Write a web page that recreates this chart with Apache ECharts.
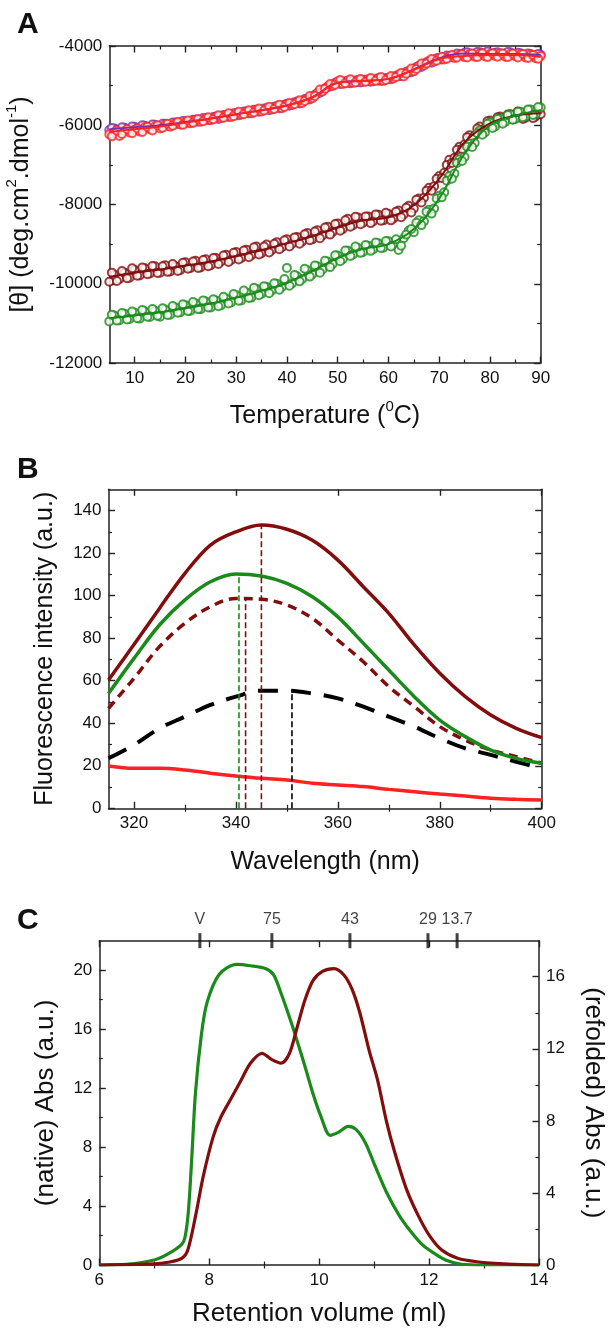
<!DOCTYPE html>
<html><head><meta charset="utf-8">
<script src="https://cdn.jsdelivr.net/npm/echarts@6/dist/echarts.min.js"></script>
<style>html,body{margin:0;padding:0;background:#fff}#c{width:613px;height:1333px}</style>
</head><body><div id="c"></div>
<script>
// ---------- Panel A : thermal melts (points read at whole and half degrees) ----------
const tempC = [5,6,7,8,9,10,11,12,13,14,
  15,16,17,18,19,20,21,22,23,24,
  25,26,27,28,29,30,31,32,33,34,
  35,36,37,38,39,40,41,42,43,44,
  45,46,47,48,49,50,51,52,53,54,
  55,56,57,58,59,60,61,62,63,64,
  65,66,67,68,69,70,71,72,73,74,
  75,76,77,78,79,80,81,82,83,84,
  85,86,87,88,89,90];
const tempHalf = [5.5,6.5,7.5,8.5,9.5,10.5,11.5,12.5,13.5,14.5,
  15.5,16.5,17.5,18.5,19.5,20.5,21.5,22.5,23.5,24.5,
  25.5,26.5,27.5,28.5,29.5,30.5,31.5,32.5,33.5,34.5,
  35.5,36.5,37.5,38.5,39.5,40.5,41.5,42.5,43.5,44.5,
  45.5,46.5,47.5,48.5,49.5,50.5,51.5,52.5,53.5,54.5,
  55.5,56.5,57.5,58.5,59.5,60.5,61.5,62.5,63.5,64.5,
  65.5,66.5,67.5,68.5,69.5,70.5,71.5,72.5,73.5,74.5,
  75.5,76.5,77.5,78.5,79.5,80.5,81.5,82.5,83.5,84.5,
  85.5,86.5,87.5,88.5,89.5];
const cdPurple = [-6120,-6080,-6130,-6060,-6090,-6040,-6070,-6010,-6050,-5990,
  -6010,-5960,-5990,-5930,-5950,-5900,-5920,-5860,-5880,-5830,
  -5840,-5780,-5800,-5740,-5760,-5700,-5710,-5650,-5670,-5610,
  -5620,-5570,-5580,-5520,-5530,-5460,-5460,-5400,-5400,-5330,
  -5290,-5200,-5120,-5040,-4980,-4930,-4920,-4930,-4900,-4910,
  -4880,-4890,-4860,-4870,-4840,-4830,-4790,-4760,-4710,-4650,
  -4590,-4520,-4450,-4400,-4350,-4310,-4280,-4260,-4240,-4200,
  -4170,-4190,-4200,-4160,-4180,-4210,-4170,-4200,-4190,-4160,
  -4200,-4180,-4220,-4200,-4230,-4220];
const cdPurpleHalf = [-6070,-6110,-6050,-6100,-6030,-6080,-6000,-6060,-5980,-6030,
  -5960,-6010,-5930,-5970,-5890,-5940,-5860,-5910,-5820,-5870,
  -5790,-5840,-5740,-5790,-5700,-5750,-5650,-5700,-5610,-5660,
  -5580,-5620,-5530,-5570,-5480,-5510,-5420,-5450,-5340,-5350,
  -5230,-5180,-5070,-5020,-4930,-4960,-4890,-4940,-4870,-4920,
  -4850,-4900,-4830,-4880,-4810,-4840,-4750,-4760,-4650,-4660,
  -4530,-4530,-4410,-4420,-4310,-4340,-4240,-4280,-4190,-4240,
  -4160,-4230,-4150,-4220,-4140,-4220,-4160,-4230,-4150,-4220,
  -4170,-4240,-4190,-4250,-4200];
const cdRed = [-6230,-6190,-6270,-6150,-6180,-6110,-6160,-6050,-6100,-6030,
  -6080,-5990,-6040,-5950,-5980,-5920,-5950,-5860,-5910,-5830,
  -5870,-5790,-5820,-5750,-5790,-5700,-5730,-5660,-5700,-5610,
  -5650,-5580,-5600,-5520,-5570,-5470,-5490,-5410,-5440,-5330,
  -5320,-5180,-5150,-5020,-5010,-4890,-4960,-4870,-4930,-4860,
  -4910,-4840,-4890,-4810,-4880,-4800,-4820,-4720,-4770,-4630,
  -4640,-4500,-4490,-4370,-4390,-4300,-4340,-4250,-4300,-4230,
  -4280,-4200,-4270,-4190,-4260,-4200,-4250,-4180,-4270,-4200,
  -4260,-4210,-4290,-4220,-4310,-4250];
const cdRedHalf = [-6280,-6140,-6220,-6100,-6200,-6080,-6170,-6040,-6130,-6000,
  -6060,-5960,-6010,-5920,-5990,-5880,-5940,-5840,-5900,-5800,
  -5850,-5750,-5810,-5700,-5770,-5660,-5720,-5620,-5680,-5580,
  -5630,-5530,-5590,-5480,-5540,-5440,-5470,-5370,-5390,-5260,
  -5260,-5100,-5080,-4960,-4980,-4860,-4940,-4840,-4920,-4830,
  -4900,-4810,-4880,-4780,-4860,-4760,-4780,-4680,-4700,-4570,
  -4580,-4440,-4440,-4330,-4370,-4270,-4320,-4230,-4290,-4210,
  -4290,-4190,-4280,-4180,-4280,-4180,-4270,-4190,-4280,-4190,
  -4290,-4200,-4300,-4230,-4320];
const cdDarkRed = [-9950,-9780,-9880,-9720,-9850,-9650,-9790,-9610,-9740,-9560,
  -9720,-9530,-9690,-9560,-9650,-9460,-9600,-9420,-9590,-9380,
  -9530,-9350,-9440,-9270,-9400,-9200,-9350,-9140,-9280,-9060,
  -9230,-9010,-9150,-8950,-9080,-8880,-8990,-8820,-8930,-8720,
  -8880,-8650,-8780,-8560,-8690,-8480,-8620,-8360,-8520,-8330,
  -8460,-8300,-8420,-8260,-8400,-8240,-8350,-8150,-8250,-8030,
  -8100,-7850,-7830,-7580,-7540,-7280,-7200,-6870,-6820,-6540,
  -6480,-6250,-6260,-6030,-6070,-5880,-5960,-5780,-5870,-5720,
  -5830,-5690,-5810,-5660,-5780,-5720];
const cdDarkRedHalf = [-9720,-9930,-9680,-9860,-9610,-9800,-9590,-9760,-9550,-9730,
  -9560,-9700,-9500,-9680,-9470,-9620,-9440,-9600,-9400,-9560,
  -9350,-9500,-9290,-9450,-9220,-9390,-9160,-9330,-9080,-9260,
  -9060,-9210,-8990,-9130,-8900,-9060,-8830,-8990,-8750,-8900,
  -8680,-8850,-8580,-8760,-8490,-8660,-8400,-8560,-8310,-8500,
  -8300,-8470,-8250,-8410,-8210,-8400,-8180,-8320,-8080,-8200,
  -7880,-7950,-7650,-7650,-7350,-7330,-7000,-6950,-6620,-6600,
  -6300,-6340,-6080,-6140,-5900,-5990,-5800,-5920,-5730,-5850,
  -5650,-5840,-5640,-5820,-5620];
const cdGreen = [-10950,-10800,-10920,-10760,-10890,-10730,-10880,-10700,-10840,-10680,
  -10830,-10650,-10780,-10600,-10720,-10540,-10680,-10500,-10640,-10450,
  -10600,-10420,-10540,-10370,-10470,-10290,-10420,-10220,-10350,-10130,
  -10250,-10080,-10170,-10000,-10080,-9600,-9990,-9810,-9880,-9660,
  -9760,-9560,-9640,-9440,-9500,-9290,-9380,-9170,-9260,-9100,
  -9200,-9040,-9130,-8980,-9090,-8930,-9020,-9150,-8850,-8660,
  -8700,-8400,-8420,-8130,-8100,-7780,-7690,-7280,-7220,-6860,
  -6800,-6470,-6450,-6130,-6180,-5930,-6030,-5830,-5920,-5730,
  -5840,-5660,-5780,-5600,-5720,-5550];
const cdGreenHalf = [-10780,-10930,-10740,-10900,-10700,-10870,-10660,-10830,-10640,-10810,
  -10620,-10790,-10560,-10730,-10520,-10690,-10460,-10640,-10420,-10600,
  -10390,-10570,-10330,-10500,-10260,-10430,-10170,-10360,-10100,-10290,
  -10060,-10240,-9990,-10150,-9880,-10050,-9780,-9940,-9620,-9820,
  -9540,-9720,-9420,-9580,-9280,-9430,-9160,-9300,-9060,-9220,
  -9020,-9170,-8960,-9100,-8920,-9060,-8880,-9040,-8760,-8620,
  -8460,-8520,-8180,-8230,-7850,-7820,-7400,-7350,-6950,-6900,
  -6540,-6550,-6200,-6240,-5960,-6070,-5840,-5960,-5740,-5860,
  -5660,-5800,-5600,-5740,-5540];
const fitT = [5,10,15,20,25,30,35,40,45,50,55,60,65,70,75,80,85,90];
const fitPurple  = [-6100,-6050,-6000,-5920,-5830,-5720,-5620,-5500,-5290,-4930,-4880,-4830,-4590,-4310,-4190,-4200,-4200,-4220];
const fitRed     = [-6170,-6100,-6030,-5930,-5830,-5720,-5620,-5500,-5300,-4930,-4880,-4830,-4600,-4330,-4250,-4230,-4230,-4280];
const fitDarkRed = [-9830,-9720,-9640,-9540,-9440,-9300,-9150,-8980,-8800,-8580,-8400,-8320,-8020,-7350,-6430,-5950,-5760,-5700];
const fitGreen   = [-10870,-10800,-10720,-10620,-10500,-10350,-10180,-9980,-9680,-9350,-9120,-9000,-8620,-7850,-6720,-6000,-5760,-5620];
const aXMajor = [10,20,30,40,50,60,70,80,90];
const aXMinor = [15,25,35,45,55,65,75,85];
const aYMajor = [-12000,-10000,-8000,-6000,-4000];
const aYMinor = [-11000,-9000,-7000,-5000];

// ---------- Panel B : fluorescence ----------
const wl = [315,320,325,330,335,340,345,350,355,360,365,370,375,380,385,390,395,400];
const flDarkRed  = [60.3,77,94,110.5,123.8,130,133.2,131.2,126,116.7,104.2,91.7,76.8,63.5,52.5,43.9,37.6,33.2];
const flGreen    = [54,70.5,86.2,98,106.5,110.2,109.2,105.8,99.5,90,77.6,65,52.5,41.5,33.7,27.4,23.5,21.2];
const flDarkRedD = [47,61.1,76,87,94.8,98.7,98.3,95.6,89.3,79.1,68.9,57.2,47.8,38.4,32.1,27.4,24.3,21.2];
const flBlackD   = [23.5,29.8,37.6,43.1,48.6,52.5,55.3,55.3,54,51.7,47.8,43.1,38.4,32.9,28.2,25.1,21.9,18.8];
const flRed      = [19.9,18.8,18.8,18,16.5,15.2,14.1,13.3,11.8,11,10.2,8.9,7.8,6.7,5.8,4.7,4.2,3.9];
const dropWl  = [340.6,341.9,345.0,351.0];
const dropTop = [110.3,99.0,133.2,55.4];
const bXMajor = [320,340,360,380,400];
const bXMinor = [330,350,370,390];
const bYMajor = [0,20,40,60,80,100,120,140];
const bYMinor = [10,30,50,70,90,110,130];

// ---------- Panel C : size exclusion ----------
const volNative = [6,6.5,7,7.25,7.5,7.56,7.62,7.68,7.75,7.86,7.96,8.18,8.5,8.75,9.03,9.17,9.31,9.46,9.6,9.74,9.89,10.03,10.2,10.35,10.53,10.67,10.84,11.02,11.23,11.45,11.66,11.88,12.09,12.3,12.59,13,14];
const absNative = [0,0.05,0.34,0.75,1.4,1.9,3.6,7.1,11.7,15.7,17.8,19.7,20.4,20.3,20.1,19.7,18.4,16.8,15.2,13.5,11.6,10.1,8.8,9.0,9.4,9.2,8.3,6.7,4.9,3.4,2.3,1.36,0.8,0.34,0.05,0,0];
const volRefold = [6,7,7.25,7.5,7.61,7.75,7.89,8.07,8.21,8.39,8.57,8.75,8.96,9.14,9.31,9.46,9.6,9.74,9.89,10.06,10.27,10.45,10.6,10.74,10.91,11.06,11.23,11.38,11.59,11.81,12.02,12.23,12.52,12.87,13.44,14];
const absRefold = [0,0.06,0.15,0.37,0.83,2.7,4.9,7.1,8.2,9.2,10.2,11.2,11.75,11.4,11.2,11.75,13.2,14.7,15.8,16.3,16.45,16.1,15.3,14.0,11.9,10.3,7.9,6.2,4.2,2.7,1.57,0.83,0.37,0.18,0.05,0];
const mwLabels = ['V','75','43','29','13.7'];
const mwVol    = [7.83,9.14,10.56,11.98,12.51];
const cXMajor = [6,8,10,12,14];
const cXMinor = [7,9,11,13];
const cYLMajor = [0,4,8,12,16,20];
const cYLMinor = [2,6,10,14,18];
const cYRMajor = [0,4,8,12,16];
const cYRMinor = [2,6,10,14];

// ---------- helpers ----------
const FONT = 'Liberation Sans, Arial, sans-serif';
const AX = '#222';
const COL = {purple:'#7d2fae', red:'#ff2020', darkred:'#820d0d', green:'#1a8a1a', black:'#000'};
const xAxes = [], yAxes = [];
function scaleAxes(list, grid, min, max, majors, minors, pos, showLabels, extra) {
  const base = {type:'value', gridIndex:grid, min:min, max:max, position:pos,
    splitLine:{show:false}, axisLine:{show:true,onZero:false,lineStyle:{color:AX,width:1.5}}};
  list.push(Object.assign({}, base, {
    axisLabel: showLabels ? {show:true, customValues:majors, fontSize:17, color:'#111', fontFamily:FONT, margin:7,
      formatter: v => String(v)} : {show:false},
    axisTick:{show:true, inside:true, customValues:majors, length:6.5, lineStyle:{color:AX,width:1.4}}
  }, extra || {}));
  const main = list.length - 1;
  list.push(Object.assign({}, base, {axisLine:{show:false}, axisLabel:{show:false},
    axisTick:{show:true, inside:true, customValues:minors, length:3.5, lineStyle:{color:AX,width:1.2}}}));
  return main;
}
function nameStyle(size) {
  return {fontSize:size, fontFamily:FONT, color:'#111', lineHeight:34,
    rich:{s:{fontSize:15, fontFamily:FONT, color:'#111', verticalAlign:'top', lineHeight:16}}};
}

// Panel A axes
const aX = scaleAxes(xAxes, 0, 5, 90, aXMajor, aXMinor, 'bottom', true,
  {name:'Temperature ({s|0}C)', nameLocation:'middle', nameGap:36, nameTextStyle:nameStyle(25)});
scaleAxes(xAxes, 0, 5, 90, aXMajor, aXMinor, 'top', false);
const aY = scaleAxes(yAxes, 0, -12000, -4000, aYMajor, aYMinor, 'left', true,
  {name:'[θ] (deg.cm{s|2}.dmol{s|-1})', nameLocation:'middle', nameGap:67, nameTextStyle:nameStyle(25)});
scaleAxes(yAxes, 0, -12000, -4000, aYMajor, aYMinor, 'right', false);
// Panel B axes
const bX = scaleAxes(xAxes, 1, 315, 400, bXMajor, bXMinor, 'bottom', true,
  {name:'Wavelength (nm)', nameLocation:'middle', nameGap:37, nameTextStyle:nameStyle(25)});
scaleAxes(xAxes, 1, 315, 400, bXMajor, bXMinor, 'top', false);
const bY = scaleAxes(yAxes, 1, 0, 150, bYMajor, bYMinor, 'left', true,
  {name:'Fluorescence intensity (a.u.)', nameLocation:'middle', nameGap:39, nameTextStyle:nameStyle(25)});
scaleAxes(yAxes, 1, 0, 150, bYMajor, bYMinor, 'right', false);
// Panel C axes
const cX = scaleAxes(xAxes, 2, 6, 14, cXMajor, cXMinor, 'bottom', true,
  {name:'Retention volume (ml)', nameLocation:'middle', nameGap:32, nameTextStyle:nameStyle(26)});
scaleAxes(xAxes, 2, 6, 14, cXMajor, cXMinor, 'top', false);
const cYL = scaleAxes(yAxes, 2, 0, 22, cYLMajor, cYLMinor, 'left', true,
  {name:'(native) Abs (a.u.)', nameLocation:'middle', nameGap:34, nameTextStyle:nameStyle(26)});
const cYR = scaleAxes(yAxes, 2, 0, 18, cYRMajor, cYRMinor, 'right', true,
  {name:'(refolded) Abs (a.u.)', nameLocation:'middle', nameGap:37, nameRotate:-90, nameTextStyle:nameStyle(26)});

const zip = (xs, ys) => xs.map((x, i) => [x, ys[i]]);
const series = [];
function scat(xs, data, color) {
  series.push({type:'scatter', xAxisIndex:aX, yAxisIndex:aY, data:zip(xs, data), symbol:'emptyCircle',
    symbolSize:8, itemStyle:{color:color, borderColor:color, borderWidth:1.3}, silent:true});
}
function fit(data, color) {
  series.push({type:'line', xAxisIndex:aX, yAxisIndex:aY, data:zip(fitT, data), smooth:0.4, showSymbol:false,
    lineStyle:{color:color, width:2}, silent:true});
}
scat(tempC, cdPurple, COL.purple); scat(tempHalf, cdPurpleHalf, COL.purple); fit(fitPurple, COL.purple);
scat(tempC, cdRed, COL.red); scat(tempHalf, cdRedHalf, COL.red); fit(fitRed, COL.red);
scat(tempC, cdDarkRed, COL.darkred); scat(tempHalf, cdDarkRedHalf, COL.darkred); fit(fitDarkRed, COL.darkred);
scat(tempC, cdGreen, COL.green); scat(tempHalf, cdGreenHalf, COL.green); fit(fitGreen, COL.green);

function bline(data, color, type, width) {
  series.push({type:'line', xAxisIndex:bX, yAxisIndex:bY, data:zip(wl, data), smooth:0.35, showSymbol:false,
    lineStyle:{color:color, width:width, type:type, cap:'butt'}, silent:true});
}
bline(flRed, COL.red, 'solid', 3.5);
bline(flBlackD, COL.black, [20, 13], 4);
bline(flDarkRedD, COL.darkred, [9, 6], 3.5);
bline(flGreen, COL.green, 'solid', 3.5);
bline(flDarkRed, COL.darkred, 'solid', 3.5);
const dropCols = [COL.green, COL.darkred, COL.darkred, COL.black];
dropWl.forEach((w, i) => {
  series.push({type:'line', xAxisIndex:bX, yAxisIndex:bY, data:[[w, 0], [w, dropTop[i]]], showSymbol:false,
    lineStyle:{color:dropCols[i], width:1.6, type:[6, 3]}, silent:true});
});

series.push({type:'line', xAxisIndex:cX, yAxisIndex:cYL, data:zip(volNative, absNative), smooth:0.3, showSymbol:false,
  lineStyle:{color:COL.green, width:3.2}, silent:true});
series.push({type:'line', xAxisIndex:cX, yAxisIndex:cYR, data:zip(volRefold, absRefold), smooth:0.3, showSymbol:false,
  lineStyle:{color:COL.darkred, width:3.2}, silent:true});
series.push({type:'scatter', xAxisIndex:cX, yAxisIndex:cYL, clip:false, silent:true,
  data: mwVol.map((v, i) => ({value:[v, 22], name:mwLabels[i]})),
  symbol:'rect', symbolSize:[3, 15], itemStyle:{color:'#111'},
  label:{show:true, position:'top', distance:6, formatter:'{b}', fontSize:16, fontFamily:FONT, color:'#111'}});

const titleStyle = {fontSize:30, fontWeight:'bold', fontFamily:FONT, color:'#111'};
const option = {
  animation:false,
  backgroundColor:'#fff',
  title:[
    {text:'A', left:12, top:5, textStyle:titleStyle},
    {text:'B', left:12, top:450, textStyle:titleStyle},
    {text:'C', left:12, top:901, textStyle:titleStyle}
  ],
  grid:[
    {left:109.3, top:46, width:431.4, height:317, outerBoundsMode:'none', containLabel:false},
    {left:108.5, top:489.3, width:433.2, height:319, outerBoundsMode:'none', containLabel:false},
    {left:99.3, top:940.7, width:439.7, height:324.3, outerBoundsMode:'none', containLabel:false}
  ],
  xAxis:xAxes, yAxis:yAxes, series:series
};
const chart = echarts.init(document.getElementById('c'), null, {renderer:'canvas'});
chart.setOption(option);
</script></body></html>
